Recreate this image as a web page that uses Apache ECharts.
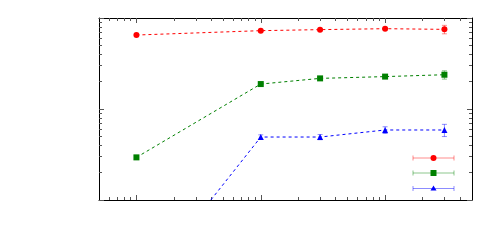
<!DOCTYPE html>
<html><head><meta charset="utf-8">
<script src="https://cdn.jsdelivr.net/npm/echarts@6/dist/echarts.min.js"></script>
<style>html,body{margin:0;background:#fff}#c{width:500px;height:250px}</style>
</head><body><div id="c"></div>
<script>
// ---- data ----
const xValues = [10, 100, 300, 1000, 3000];
const redY   = [0.65, 0.726, 0.745, 0.763, 0.75];
const redErr = [0.01, 0.012, 0.012, 0.014, 0.08];
const greenY   = [0.0294, 0.188, 0.217, 0.227, 0.238];
const greenErr = [0.0015, 0.004, 0.005, 0.006, 0.025];
const blueY   = [0.00093, 0.0492, 0.0492, 0.0588, 0.0588];
const blueErr = [0.00002, 0.0028, 0.0032, 0.005, 0.009];
// ticks
const xMajor = [10, 100, 1000];
const xMinor = [6,7,8,9,20,30,40,50,60,70,80,90,200,300,400,500,600,700,800,900,2000,3000,4000];
const yMajor = [0.01, 0.1, 1];
const yMinor = [0.02,0.03,0.04,0.05,0.06,0.07,0.08,0.09,0.2,0.3,0.4,0.5,0.6,0.7,0.8,0.9];

const chart = echarts.init(document.getElementById('c'), null, {renderer:'canvas'});

function axisX(pos, vals, len, line) {
  return {type:'log', logBase:10, min:5, max:5000, position:pos, gridIndex:0,
    axisLine:{show:line, lineStyle:{color:'#000', width:1}},
    axisTick:{show:true, inside:true, length:len, customValues:vals, lineStyle:{color:'#555', width:1}},
    axisLabel:{show:false}, splitLine:{show:false}};
}
function axisY(pos, vals, len, line) {
  return {type:'log', logBase:10, min:0.01, max:1, position:pos, gridIndex:0,
    axisLine:{show:line, lineStyle:{color:'#000', width:1}},
    axisTick:{show:true, inside:true, length:len, customValues:vals, lineStyle:{color:'#555', width:1}},
    axisLabel:{show:false}, splitLine:{show:false}};
}

function pairs(ys) { return xValues.map((x,i)=>[x, ys[i]]); }
function errData(ys, es) { return xValues.map((x,i)=>[x, ys[i], es[i]]); }

function lineSeries(name, ys, color, symbol, size) {
  return {name, type:'line', data:pairs(ys), xAxisIndex:0, yAxisIndex:0,
    symbol, symbolSize:size, showSymbol:true, clip:true,
    itemStyle:{color}, lineStyle:{color, width:1, type:[3,3]}, z:3, animation:false};
}
function errSeries(ys, es, color) {
  return {type:'custom', xAxisIndex:0, yAxisIndex:0, data:errData(ys, es), clip:true, z:2, animation:false,
    renderItem(params, api){
      const x = api.value(0), y = api.value(1), e = api.value(2);
      const lo = api.coord([x, y - e]), hi = api.coord([x, y + e]);
      const style = {stroke: color, lineWidth: 1, opacity: 0.45};
      return {type:'group', children:[
        {type:'line', shape:{x1:lo[0], y1:lo[1], x2:hi[0], y2:hi[1]}, style},
        {type:'line', shape:{x1:lo[0]-2.5, y1:lo[1], x2:lo[0]+2.5, y2:lo[1]}, style},
        {type:'line', shape:{x1:hi[0]-2.5, y1:hi[1], x2:hi[0]+2.5, y2:hi[1]}, style}
      ]};
    }};
}

function legendItem(y, color, symbol) {
  const x1 = 413, x2 = 454, xm = 433.5;
  const st = {stroke: color, lineWidth: 1, opacity: 0.45};
  const items = [
    {type:'line', shape:{x1, y1:y, x2, y2:y}, style:st},
    {type:'line', shape:{x1, y1:y-2.5, x2:x1, y2:y+2.5}, style:st},
    {type:'line', shape:{x1:x2, y1:y-2.5, x2:x2, y2:y+2.5}, style:st}
  ];
  if (symbol === 'circle') items.push({type:'circle', shape:{cx:xm, cy:y, r:3}, style:{fill:color}});
  if (symbol === 'rect') items.push({type:'rect', shape:{x:xm-3, y:y-3, width:6, height:6}, style:{fill:color}});
  if (symbol === 'triangle') items.push({type:'polygon', shape:{points:[[xm, y-3],[xm+3, y+2],[xm-3, y+2]]}, style:{fill:color}});
  return items;
}

chart.setOption({
  animation:false,
  backgroundColor:'#fff',
  grid:{left:99, right:28, top:18, bottom:50, show:false},
  xAxis:[axisX('bottom', xMajor, 5, true), axisX('bottom', xMinor, 3, false),
         axisX('top', xMajor, 5, true), axisX('top', xMinor, 3, false)],
  yAxis:[axisY('left', yMajor, 5, true), axisY('left', yMinor, 3, false),
         axisY('right', yMajor, 5, true), axisY('right', yMinor, 3, false)],
  series:[
    errSeries(redY, redErr, '#ff0000'),
    errSeries(greenY, greenErr, '#008000'),
    errSeries(blueY, blueErr, '#0000ff'),
    lineSeries('red', redY, '#ff0000', 'circle', 6),
    lineSeries('green', greenY, '#008000', 'rect', 6),
    lineSeries('blue', blueY, '#0000ff', 'triangle', 6)
  ],
  graphic:[].concat(
    legendItem(158, '#ff0000', 'circle'),
    legendItem(173, '#008000', 'rect'),
    legendItem(188.5, '#0000ff', 'triangle')
  )
});
</script></body></html>
